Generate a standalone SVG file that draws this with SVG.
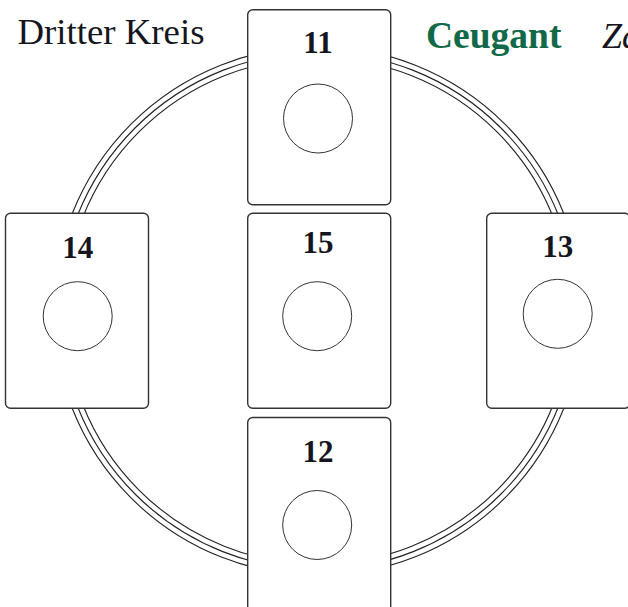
<svg xmlns="http://www.w3.org/2000/svg" width="628" height="607" viewBox="0 0 628 607">
<style>
.ring{fill:none;stroke:#222;stroke-width:1.1}
.card{fill:#fff;stroke:#333;stroke-width:1.4}
.hole{fill:#fff;stroke:#333;stroke-width:1}
.num{font-family:"Liberation Serif",serif;font-weight:bold;font-size:31px;fill:#151520;text-anchor:middle}
.hdr{font-family:"Liberation Serif",serif;font-size:36px;fill:#151520}
</style>
<rect width="628" height="607" fill="#fff"/>
<g id="connectors">
<circle class="ring" cx="318" cy="311" r="264.4"/>
<circle class="ring" cx="318" cy="311" r="258.8"/>
<circle class="ring" cx="318" cy="311" r="253.2"/>
</g>
<text class="hdr" x="17.5" y="44" style="font-size:36.8px">Dritter Kreis</text>
<text class="hdr" x="426" y="48" style="font-weight:bold;fill:#12694a;font-size:37.5px">Ceugant</text>
<text class="hdr" x="602" y="48" style="font-style:italic">Za</text>
<g id="node11">
<rect class="card" x="247.7" y="9.7" width="143" height="195" rx="5"/>
<text class="num" x="318" y="53">11</text>
<circle class="hole" cx="318" cy="118.5" r="34.5"/>
</g>
<g id="node15">
<rect class="card" x="247.7" y="213.3" width="143" height="195" rx="5"/>
<text class="num" x="318" y="252.7">15</text>
<circle class="hole" cx="317.2" cy="316.2" r="34.5"/>
</g>
<g id="node12">
<rect class="card" x="247.7" y="417.5" width="143" height="195" rx="5"/>
<text class="num" x="318" y="462">12</text>
<circle class="hole" cx="317.2" cy="525" r="34.5"/>
</g>
<g id="node14">
<rect class="card" x="5.5" y="213.3" width="143" height="195" rx="5"/>
<text class="num" x="77.7" y="257.7">14</text>
<circle class="hole" cx="77.7" cy="316.2" r="34.5"/>
</g>
<g id="node13">
<rect class="card" x="486.7" y="213.3" width="143" height="195" rx="5"/>
<text class="num" x="557.7" y="256.7">13</text>
<circle class="hole" cx="557.7" cy="313.8" r="34.5"/>
</g>
</svg>
